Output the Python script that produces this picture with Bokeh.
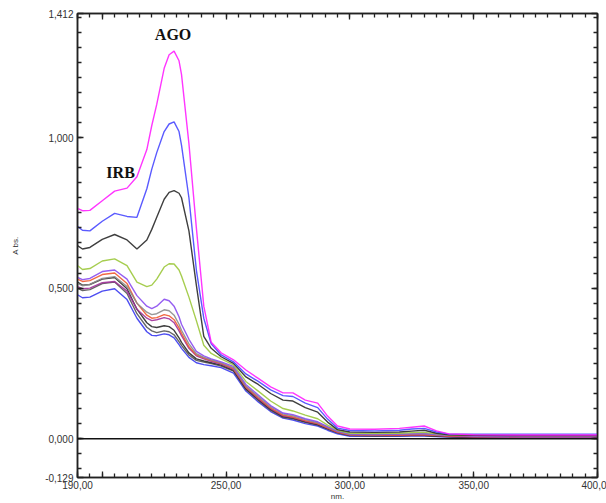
import math
from bokeh.plotting import figure
from bokeh.models import (Range1d, FixedTicker, LinearAxis, Span, Label)
from bokeh.embed import file_html
from bokeh.resources import INLINE

# ---- data ----
wavelength = [190, 192, 195, 200, 205, 210, 214, 218, 220, 222, 225, 227, 229, 231, 232, 235, 238,
              241, 244, 248, 253, 258, 263, 268, 273, 277, 282, 287, 291, 295, 300,
              310, 320, 325, 330, 335, 340, 350, 370, 400]

s_magenta = [0.765, 0.757, 0.758, 0.790, 0.822, 0.832, 0.870, 0.960, 1.040, 1.110, 1.230, 1.275, 1.287, 1.255, 1.210, 0.980, 0.700,
             0.440, 0.320, 0.285, 0.262, 0.228, 0.200, 0.172, 0.152, 0.152, 0.128, 0.118, 0.075, 0.042, 0.032,
             0.031, 0.034, 0.038, 0.042, 0.026, 0.016, 0.013, 0.012, 0.012]
s_blue = [0.705, 0.692, 0.690, 0.722, 0.748, 0.738, 0.735, 0.830, 0.895, 0.950, 1.020, 1.045, 1.052, 1.020, 0.975, 0.800, 0.560,
          0.400, 0.315, 0.278, 0.255, 0.215, 0.190, 0.162, 0.143, 0.140, 0.118, 0.103, 0.065, 0.035, 0.027,
          0.026, 0.028, 0.032, 0.034, 0.022, 0.015, 0.015, 0.015, 0.015]
s_black = [0.641, 0.630, 0.635, 0.662, 0.678, 0.660, 0.630, 0.660, 0.695, 0.735, 0.795, 0.818, 0.824, 0.815, 0.800, 0.690, 0.510,
           0.340, 0.300, 0.272, 0.250, 0.205, 0.180, 0.150, 0.128, 0.125, 0.103, 0.088, 0.055, 0.030, 0.022,
           0.021, 0.022, 0.025, 0.028, 0.018, 0.013, 0.011, 0.010, 0.010]
s_green = [0.575, 0.562, 0.565, 0.590, 0.597, 0.575, 0.520, 0.505, 0.510, 0.530, 0.570, 0.581, 0.580, 0.560, 0.540, 0.470, 0.392,
           0.310, 0.283, 0.265, 0.245, 0.190, 0.158, 0.125, 0.100, 0.092, 0.078, 0.066, 0.045, 0.028, 0.018,
           0.017, 0.018, 0.020, 0.021, 0.016, 0.012, 0.010, 0.010, 0.010]
s_violet = [0.536, 0.528, 0.532, 0.555, 0.560, 0.530, 0.475, 0.440, 0.432, 0.440, 0.463, 0.458, 0.440, 0.405, 0.380, 0.330, 0.290,
            0.275, 0.265, 0.255, 0.240, 0.180, 0.145, 0.110, 0.085, 0.080, 0.066, 0.056, 0.040, 0.025, 0.015,
            0.014, 0.015, 0.016, 0.017, 0.014, 0.011, 0.008, 0.006, 0.006]
s_gray = [0.515, 0.508, 0.512, 0.532, 0.538, 0.505, 0.450, 0.420, 0.412, 0.415, 0.428, 0.425, 0.410, 0.380, 0.360, 0.315, 0.282,
          0.270, 0.262, 0.252, 0.236, 0.175, 0.140, 0.106, 0.082, 0.076, 0.063, 0.053, 0.038, 0.024, 0.014,
          0.014, 0.015, 0.016, 0.016, 0.013, 0.011, 0.010, 0.010, 0.010]
s_orange = [0.530, 0.522, 0.525, 0.545, 0.550, 0.515, 0.450, 0.410, 0.400, 0.402, 0.412, 0.408, 0.395, 0.368, 0.350, 0.305, 0.278,
            0.268, 0.260, 0.250, 0.233, 0.172, 0.136, 0.102, 0.078, 0.072, 0.060, 0.050, 0.036, 0.022, 0.013,
            0.012, 0.012, 0.013, 0.013, 0.011, 0.009, 0.007, 0.006, 0.006]
s_plum = [0.505, 0.498, 0.500, 0.518, 0.522, 0.490, 0.430, 0.400, 0.392, 0.395, 0.402, 0.398, 0.385, 0.358, 0.342, 0.300, 0.275,
          0.265, 0.257, 0.248, 0.230, 0.170, 0.133, 0.100, 0.076, 0.070, 0.058, 0.049, 0.035, 0.021, 0.012,
          0.011, 0.011, 0.012, 0.012, 0.010, 0.008, 0.005, 0.004, 0.004]
s_black2 = [0.520, 0.510, 0.512, 0.530, 0.535, 0.498, 0.430, 0.385, 0.372, 0.369, 0.375, 0.372, 0.360, 0.335, 0.320, 0.285, 0.265,
            0.258, 0.252, 0.244, 0.227, 0.166, 0.130, 0.097, 0.073, 0.068, 0.056, 0.047, 0.033, 0.020, 0.011,
            0.010, 0.010, 0.011, 0.011, 0.009, 0.007, 0.004, 0.003, 0.003]
s_dark = [0.500, 0.492, 0.495, 0.515, 0.520, 0.482, 0.415, 0.370, 0.358, 0.352, 0.358, 0.355, 0.345, 0.322, 0.310, 0.278, 0.260,
          0.254, 0.249, 0.241, 0.224, 0.163, 0.127, 0.094, 0.071, 0.066, 0.054, 0.045, 0.032, 0.019, 0.010,
          0.009, 0.010, 0.010, 0.010, 0.008, 0.006, 0.004, 0.003, 0.003]
s_blue2 = [0.478, 0.468, 0.470, 0.490, 0.498, 0.462, 0.400, 0.355, 0.343, 0.342, 0.348, 0.345, 0.335, 0.312, 0.300, 0.270, 0.252,
           0.246, 0.242, 0.236, 0.218, 0.158, 0.122, 0.090, 0.068, 0.062, 0.050, 0.042, 0.028, 0.016, 0.008,
           0.008, 0.008, 0.009, 0.009, 0.007, 0.005, 0.003, 0.002, 0.002]

series = [s_blue2, s_dark, s_black2, s_plum, s_orange, s_gray, s_violet, s_green, s_black, s_blue, s_magenta]
colors = ["#3a3af0", "#555555", "#2a2a2a", "#a0309a", "#f05a30", "#8c8c8c", "#8a4cf0", "#9cc83c",
          "#2a2a2a", "#4848ff", "#ff20ff"]

x_tick_values = [190, 200, 250, 300, 350, 400]
x_tick_labels = {190: "190,00", 200: "", 250: "250,00", 300: "300,00", 350: "350,00", 400: "400,0"}
y_tick_values = [-0.129, 0.0, 0.5, 1.0, 1.412]
y_tick_labels = {-0.129: "-0,129", 0.0: "0,000", 0.5: "0,500", 1.0: "1,000", 1.412: "1,412"}

# ---- figure ----
p = figure(width=606, height=503, output_backend="svg", toolbar_location=None,
           x_range=Range1d(190, 400), y_range=Range1d(-0.129, 1.412),
           min_border_left=77, min_border_right=9, min_border_top=13, min_border_bottom=26,
           x_axis_type=None, y_axis_type=None)
p.grid.visible = False
p.outline_line_color = "#222222"
p.outline_line_width = 1.5
p.background_fill_color = "white"
p.border_fill_color = "white"

xt = FixedTicker(ticks=x_tick_values, minor_ticks=list(range(190, 401, 5)))
yt = FixedTicker(ticks=y_tick_values, minor_ticks=[round(-0.1 + 0.05 * i, 3) for i in range(31)])

def style_axis(ax, show_labels):
    ax.axis_line_color = "#222222"
    ax.axis_line_width = 1.5
    ax.major_tick_in = 6
    ax.major_tick_out = 0
    ax.minor_tick_in = 4
    ax.minor_tick_out = 0
    ax.major_tick_line_color = "#222222"
    ax.minor_tick_line_color = "#222222"
    ax.major_tick_line_width = 1.3
    ax.minor_tick_line_width = 1.3
    if show_labels:
        ax.major_label_text_font = "Liberation Sans"
        ax.major_label_text_font_size = "10px"
        ax.major_label_text_color = "#333333"
        ax.axis_label_text_font = "Liberation Sans"
        ax.axis_label_text_font_size = "8px"
        ax.axis_label_text_font_style = "normal"
        ax.axis_label_text_color = "#333333"
    else:
        ax.major_label_text_font_size = "0px"
        ax.major_label_standoff = 0

xb = LinearAxis(ticker=xt, major_label_overrides=x_tick_labels, axis_label="nm.")
style_axis(xb, True)
xb.major_label_standoff = 3
xb.axis_label_standoff = 0
p.add_layout(xb, "below")

xa = LinearAxis(ticker=xt, major_label_overrides={v: "" for v in x_tick_values})
style_axis(xa, False)
p.add_layout(xa, "above")

yl = LinearAxis(ticker=yt, major_label_overrides=y_tick_labels, axis_label="A bs.")
style_axis(yl, True)
yl.major_label_standoff = 4
yl.axis_label_standoff = 22
p.add_layout(yl, "left")

yr = LinearAxis(ticker=yt, major_label_overrides={v: "" for v in y_tick_values})
style_axis(yr, False)
p.add_layout(yr, "right")

for s, c in zip(series, colors):
    p.line(wavelength, s, line_color=c, line_width=1.4, line_alpha=0.9)

p.add_layout(Span(location=0, dimension="width", line_color="#111111", line_width=1.5))

p.add_layout(Label(x=228.6, y=1.342, text="AGO", text_font="Liberation Serif",
                   text_font_style="bold", text_font_size="16px", text_align="center",
                   text_baseline="middle", text_color="#111111"))
p.add_layout(Label(x=207.4, y=0.884, text="IRB", text_font="Liberation Serif",
                   text_font_style="bold", text_font_size="16px", text_align="center",
                   text_baseline="middle", text_color="#111111"))

open("out.html", "w").write(file_html(p, INLINE))
